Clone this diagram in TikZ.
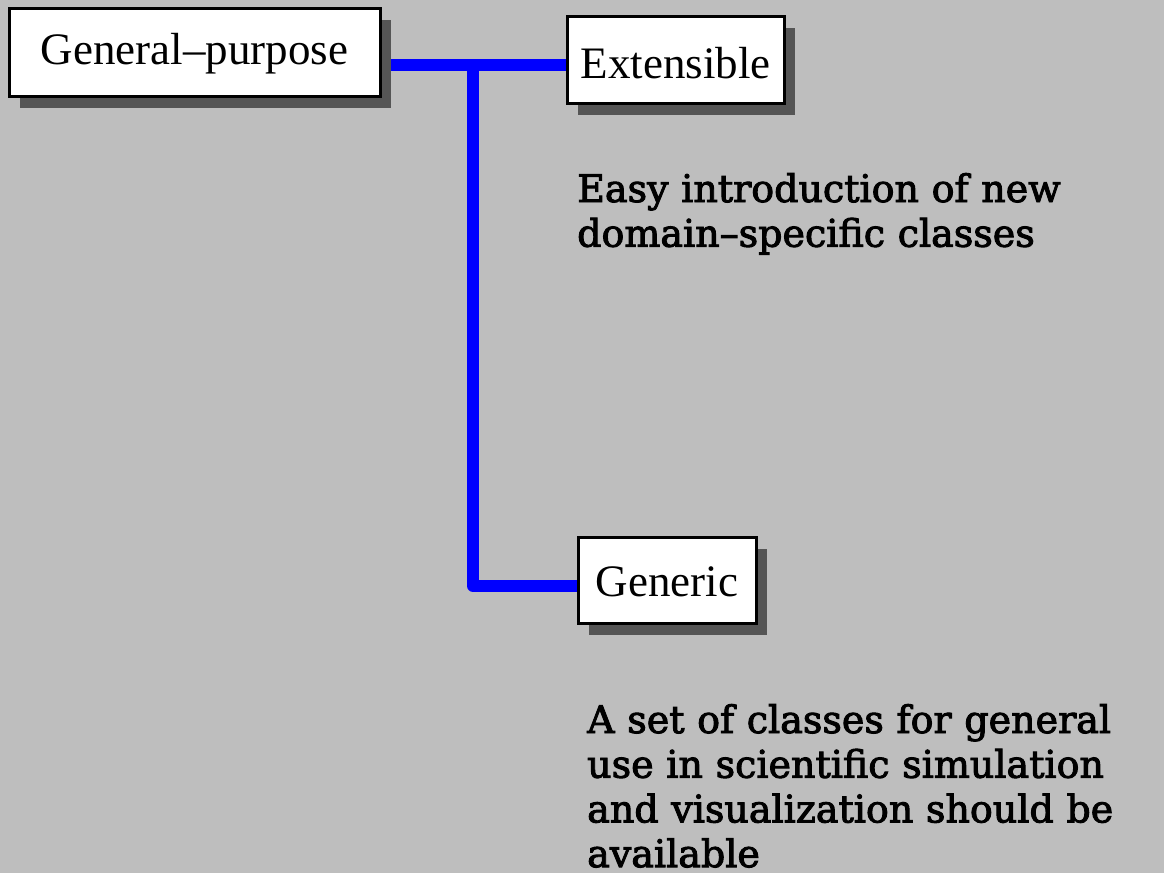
\documentclass[tikz,border=0pt]{standalone}
\usepackage{fontspec}
\setmainfont{Liberation Serif}
\newfontfamily\bodyfont[FakeBold=2.5,Ligatures=TeX]{DejaVu Serif}
\usetikzlibrary{shadows}
\definecolor{canvasgray}{RGB}{190,190,190}
\definecolor{shadowgray}{RGB}{85,85,85}
\tikzset{
  featbox/.style={draw=black, line width=3pt, fill=white, inner sep=0pt,
    font=\fontsize{45}{54}\selectfont,
    drop shadow={shadow xshift=11pt, shadow yshift=-12pt, fill=shadowgray, opacity=1}},
  branch/.style={draw=blue, line width=12pt, line join=round},
  note/.style={anchor=base west, inner sep=0pt, align=left, text width=580pt,
    font=\bodyfont\fontsize{38}{44.7}\selectfont}
}
\begin{document}
\begin{tikzpicture}[x=1pt,y=-1pt]
  \useasboundingbox[fill=canvasgray] (0,0) rectangle (1164,873);

  % junction points of the tree
  \coordinate (j) at (473,64.5);
  \coordinate (k) at (473,586);

  % feature boxes: text height / depth put each baseline where it belongs
  \node[featbox, minimum width=371pt, text height=56pt, text depth=32pt, anchor=north west] (gp) at (7.5,6.5) {General–purpose};
  \node[featbox, minimum width=217pt, text height=62pt, text depth=25pt, anchor=north west] (ext) at (565.5,14.5) {Extensible};
  \node[featbox, minimum width=178pt, text height=59pt, text depth=27pt, anchor=north west] (gen) at (576.5,535.5) {Generic};

  % blue branches, then the boxes again on top of their ends
  \draw[branch] (gp.east |- j) -- (ext.west |- j);
  \draw[branch] (j) -- (k) -- (gen.west |- k);
  \node[featbox, minimum width=217pt, text height=62pt, text depth=25pt] at (ext) {Extensible};
  \node[featbox, minimum width=178pt, text height=59pt, text depth=27pt] at (gen) {Generic};
  \node[featbox, minimum width=371pt, text height=56pt, text depth=32pt] at (gp) {General–purpose};

  \node[note] (extnote) at (577,202) {Easy introduction of new\\domain–specific classes};
  \node[note] (gennote) at (587,733) {A set of classes for general\\use in scientific simulation\\and visualization should be\\available};
\end{tikzpicture}
\end{document}
